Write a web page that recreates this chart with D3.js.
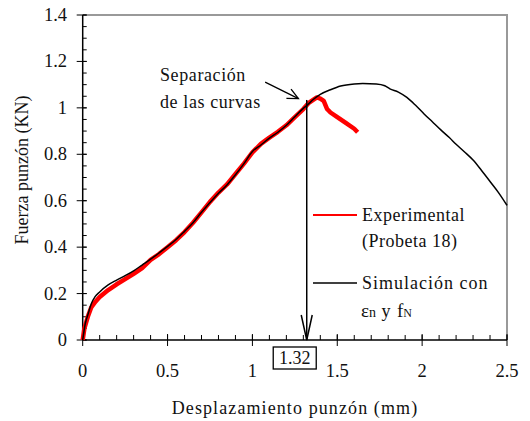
<!DOCTYPE html>
<html><head><meta charset="utf-8">
<script src="https://cdn.jsdelivr.net/npm/d3@7"></script>
<style>
html,body{margin:0;padding:0;background:#fff;}
</style></head>
<body><svg id="c" width="530" height="421" font-family="Liberation Serif"></svg>
<script>
// ---- data ----
const expX = [0,0.01,0.03,0.05,0.075,0.1,0.15,0.2,0.25,0.3,0.35,0.4,0.45,0.5,0.55,0.6,0.65,0.7,0.75,0.8,0.85,0.9,0.95,1.0,1.05,1.1,1.15,1.2,1.25,1.3,1.33,1.36,1.38,1.4,1.42,1.44,1.46,1.5,1.55,1.6,1.62];
const expY = [0,0.05,0.1,0.14,0.165,0.185,0.215,0.24,0.262,0.285,0.31,0.345,0.37,0.4,0.43,0.465,0.505,0.55,0.595,0.635,0.67,0.715,0.76,0.808,0.845,0.872,0.897,0.925,0.96,0.995,1.02,1.035,1.045,1.04,1.03,0.995,0.98,0.96,0.935,0.91,0.895];
const simX = [0,0.015,0.033,0.05,0.073,0.1,0.15,0.2,0.25,0.3,0.35,0.4,0.45,0.5,0.55,0.6,0.65,0.7,0.75,0.8,0.85,0.9,0.95,1.0,1.05,1.1,1.15,1.2,1.25,1.3,1.32,1.36,1.4,1.46,1.52,1.6,1.65,1.73,1.78,1.81,1.86,1.91,1.96,2.01,2.06,2.11,2.16,2.2,2.25,2.3,2.35,2.4,2.45,2.5];
const simY = [0,0.07,0.115,0.155,0.187,0.207,0.237,0.258,0.277,0.298,0.323,0.348,0.375,0.403,0.433,0.468,0.505,0.55,0.592,0.632,0.668,0.712,0.76,0.812,0.84,0.87,0.895,0.925,0.962,0.998,1.01,1.037,1.058,1.078,1.094,1.103,1.105,1.103,1.095,1.082,1.068,1.045,1.012,0.975,0.94,0.905,0.872,0.843,0.81,0.775,0.73,0.683,0.635,0.58];
const xTicks = [0,0.5,1,1.5,2,2.5];
const xTickLabels = ["0","0.5","1","1.5","2","2.5"];
const yTicks = [0,0.2,0.4,0.6,0.8,1,1.2,1.4];
const yTickLabels = ["0","0.2","0.4","0.6","0.8","1","1.2","1.4"];
const sepX = 1.32;
const sepTopY = 1.034;
const sepLabel = "1.32";
const annotLines = ["Separación","de las curvas"];
const annotArrow = [[1.075,1.111],[1.271,1.040]];
const legendExp = ["Experimental","(Probeta 18)"];
const legendSim = "Simulación con";
const xTitle = "Desplazamiento punzón (mm)";
const yTitle = "Fuerza punzón (KN)";

// ---- layout ----
const L=82.7,R=507,T=15,B=340;
const svg=d3.select("#c");
const x=d3.scaleLinear().domain([0,2.5]).range([L,R]);
const y=d3.scaleLinear().domain([0,1.4]).range([B,T]);
const txt=(s)=>s.attr("fill","#111");

svg.append("path").attr("d",`M${L},${T}H${R}V${B}`).attr("fill","none").attr("stroke","#999").attr("stroke-width",2);

const g=svg.append("g").attr("stroke","#000").attr("stroke-width",1);
d3.range(0,2.5001,0.1).forEach(v=>{
  g.append("line").attr("x1",x(v)).attr("x2",x(v)).attr("y1",B).attr("y2",B-5);
});
d3.range(0,1.4001,0.05).forEach(v=>{
  g.append("line").attr("x1",L).attr("x2",L+4).attr("y1",y(v)).attr("y2",y(v));
});
xTicks.forEach(v=>{
  g.append("line").attr("x1",x(v)).attr("x2",x(v)).attr("y1",B-6).attr("y2",B+6);
});
yTicks.forEach(v=>{
  g.append("line").attr("x1",L-6).attr("x2",L+4).attr("y1",y(v)).attr("y2",y(v));
});
svg.append("line").attr("x1",L).attr("x2",L).attr("y1",T).attr("y2",B).attr("stroke","#000").attr("stroke-width",1.5);
svg.append("line").attr("x1",L).attr("x2",R).attr("y1",B).attr("y2",B).attr("stroke","#000").attr("stroke-width",1.5);

xTicks.forEach((v,i)=>{
  txt(svg.append("text")).attr("x",x(v)).attr("y",377).attr("text-anchor","middle").attr("font-size",18.5).text(xTickLabels[i]);
});
yTicks.forEach((v,i)=>{
  txt(svg.append("text")).attr("x",67).attr("y",y(v)+6).attr("text-anchor","end").attr("font-size",18.5).text(yTickLabels[i]);
});
txt(svg.append("text")).attr("x",295).attr("y",414).attr("text-anchor","middle").attr("font-size",18).attr("letter-spacing",1.1).text(xTitle);
txt(svg.append("text")).attr("transform","translate(28,170) rotate(-90)").attr("text-anchor","middle").attr("font-size",18).text(yTitle);

const line=d3.line().x(d=>x(d[0])).y(d=>y(d[1]));
const expData=expX.map((v,i)=>[v,expY[i]]);
const simData=simX.map((v,i)=>[v,simY[i]]);
svg.append("path").datum(expData).attr("d",line).attr("fill","none").attr("stroke","#ff0000").attr("stroke-width",4.5).attr("stroke-linejoin","round");
svg.append("path").datum(simData).attr("d",line.curve(d3.curveMonotoneX)).attr("fill","none").attr("stroke","#000").attr("stroke-width",1.5);

const sx=x(sepX);
svg.append("line").attr("x1",sx).attr("x2",sx).attr("y1",y(sepTopY)).attr("y2",B).attr("stroke","#000").attr("stroke-width",1.5);
svg.append("path").attr("d",`M${sx-5.5},${B-25}L${sx},${B}L${sx+5.5},${B-25}`).attr("fill","none").attr("stroke","#000").attr("stroke-width",1.5);
svg.append("rect").attr("x",sx-33.5).attr("y",347).attr("width",43).attr("height",22).attr("fill","#fff").attr("stroke","#000").attr("stroke-width",1.3);
txt(svg.append("text")).attr("x",sx-12).attr("y",364).attr("text-anchor","middle").attr("font-size",18).text(sepLabel);

annotLines.forEach((t,i)=>{
  txt(svg.append("text")).attr("x",160).attr("y",81+i*26.5).attr("font-size",18).attr("letter-spacing",0.6).text(t);
});
const a0=[x(annotArrow[0][0]),y(annotArrow[0][1])], a1=[x(annotArrow[1][0]),y(annotArrow[1][1])];
svg.append("line").attr("x1",a0[0]).attr("y1",a0[1]).attr("x2",a1[0]).attr("y2",a1[1]).attr("stroke","#000").attr("stroke-width",1.3);
const ang=Math.atan2(a1[1]-a0[1],a1[0]-a0[0]), hl=12, ha=0.45;
svg.append("path").attr("d",`M${a1[0]-hl*Math.cos(ang-ha)},${a1[1]-hl*Math.sin(ang-ha)}L${a1[0]},${a1[1]}L${a1[0]-hl*Math.cos(ang+ha)},${a1[1]-hl*Math.sin(ang+ha)}`).attr("fill","none").attr("stroke","#000").attr("stroke-width",1.3);

svg.append("line").attr("x1",313).attr("x2",357).attr("y1",215).attr("y2",215).attr("stroke","#ff0000").attr("stroke-width",2);
legendExp.forEach((t,i)=>{
  txt(svg.append("text")).attr("x",362).attr("y",221+i*26).attr("font-size",18).attr("letter-spacing",0.5).text(t);
});
svg.append("line").attr("x1",313).attr("x2",357).attr("y1",283).attr("y2",283).attr("stroke","#000").attr("stroke-width",1.5);
txt(svg.append("text")).attr("x",362).attr("y",289).attr("font-size",18).attr("letter-spacing",1).text(legendSim);
const t2=txt(svg.append("text")).attr("x",361).attr("y",317).attr("font-size",18);
t2.append("tspan").text("ε").attr("font-size",19);
t2.append("tspan").text("n").attr("font-size",14);
t2.append("tspan").text(" y ").attr("font-size",18).attr("letter-spacing",1);
t2.append("tspan").text("f").attr("font-size",19);
t2.append("tspan").text("N").attr("font-size",12);
</script></body></html>
